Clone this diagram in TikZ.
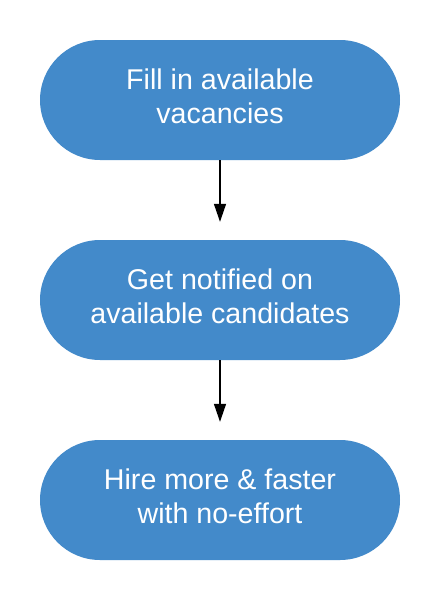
\documentclass[tikz,border=0pt]{standalone}
\usepackage{fontspec}
\setmainfont{Liberation Sans}
\usetikzlibrary{arrows.meta}
\definecolor{boxblue}{HTML}{438ACA}
\begin{document}
\begin{tikzpicture}[x=1pt,y=-1pt,
  stadium/.style={fill=boxblue, draw=none, rounded corners=60pt, minimum width=360pt, minimum height=120pt, inner sep=0pt},
  txt/.style={text=white, align=center, inner sep=0pt, font=\fontsize{28.6pt}{34pt}\selectfont},
  conn/.style={line width=1.4pt, -{Triangle[length=18pt,width=12pt]}, shorten >=18pt}]
\useasboundingbox (0,0) rectangle (440,600);
\node[stadium] (a) at (220,100) {};
\node[stadium] (b) at (220,300) {};
\node[stadium] (c) at (220,500) {};
\node[txt] (ta) at (220,96) {Fill in available\\vacancies};
\node[txt] (tb) at (220,296) {Get notified on\\available candidates};
\node[txt] (tc) at (220,496) {Hire more \& faster\\with no-effort};
\draw[conn] (a) -- (b);
\draw[conn] (b) -- (c);
\end{tikzpicture}
\end{document}
